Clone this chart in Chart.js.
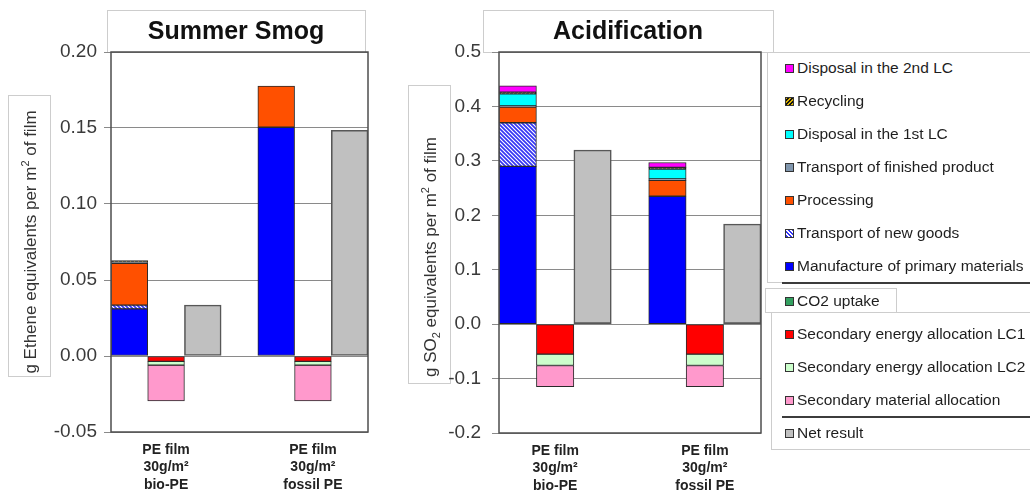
<!DOCTYPE html>
<html>
<head>
<meta charset="utf-8">
<script src="https://cdn.jsdelivr.net/npm/chart.js@4.4.1/dist/chart.umd.min.js"></script>
<style>
  html, body { margin: 0; padding: 0; background: #fff; width: 1030px; height: 495px; overflow: hidden;
    font-family: "Liberation Sans", Arial, sans-serif; }
  canvas { position: absolute; top: 0; }
  #smog { left: 0; }
  #acid { left: 395px; }
  .box { position: absolute; border: 1px solid #cdcdcd; background: #fff; box-sizing: border-box; }
  .sep { position: absolute; height: 2px; background: #3c3c3c; }
  .item { position: absolute; left: 785px; height: 20px; display: flex; align-items: center;
    font-size: 15.5px; color: #1e1e1e; white-space: nowrap; }
  .sw { width: 9px; height: 9px; border: 1px solid #333; box-sizing: border-box; margin-right: 3px; flex: none; }
</style>
</head>
<body>
<canvas id="smog" width="385" height="495"></canvas>
<canvas id="acid" width="380" height="495"></canvas>
<div id="legend"></div>
<script>
// ---- data -------------------------------------------------------------
const productLabels = [['PE film', '30g/m²', 'bio-PE'], ['PE film', '30g/m²', 'fossil PE']];

// burden contributions, stacked upward (bottom first)
const burdenSeries = [
  'Manufacture of primary materials',
  'Transport of new goods',
  'Processing',
  'Transport of finished product',
  'Disposal in the 1st LC',
  'Recycling',
  'Disposal in the 2nd LC'
];
// credits, stacked downward from zero
const creditSeries = [
  'CO2 uptake',
  'Secondary energy allocation LC1',
  'Secondary energy allocation LC2',
  'Secondary material allocation'
];
const netSeries = 'Net result';

// Summer smog, g ethene equivalents per m² of film
const smogBurdenBio    = [0.031, 0.0025, 0.0275, 0.0005, 0, 0.0013, 0];
const smogBurdenFossil = [0.1505, 0, 0.0271, 0, 0, 0, 0];
const smogCreditBio    = [0, -0.0035, -0.0025, -0.0235];
const smogCreditFossil = [0, -0.0035, -0.0025, -0.0235];
const smogNet          = [0.0335, 0.1485];
const smogTicks        = [-0.05, 0, 0.05, 0.10, 0.15, 0.20];

// Acidification, g SO2 equivalents per m² of film
const acidBurdenBio    = [0.29, 0.08, 0.029, 0.002, 0.022, 0.003, 0.012];
const acidBurdenFossil = [0.235, 0, 0.029, 0.003, 0.018, 0.003, 0.009];
const acidCreditBio    = [0, -0.055, -0.021, -0.039];
const acidCreditFossil = [0, -0.055, -0.021, -0.039];
const acidNet          = [0.32, 0.184];
const acidTicks        = [-0.2, -0.1, 0, 0.1, 0.2, 0.3, 0.4, 0.5];

// ---- styles -----------------------------------------------------------
const FONT = '"Liberation Sans", Arial, sans-serif';

function hatch(bg, fg, dir, size, lw) {
  const c = document.createElement('canvas');
  c.width = size; c.height = size;
  const g = c.getContext('2d');
  g.fillStyle = bg; g.fillRect(0, 0, size, size);
  g.strokeStyle = fg; g.lineWidth = lw;
  g.beginPath();
  for (let k = -1; k <= 1; k++) {
    if (dir === 'down') { g.moveTo(k * size - 1, -1); g.lineTo(k * size + size + 1, size + 1); }
    else { g.moveTo(k * size - 1, size + 1); g.lineTo(k * size + size + 1, -1); }
  }
  g.stroke();
  return g.createPattern(c, 'repeat');
}

const fills = {
  'Manufacture of primary materials': '#0000ff',
  'Transport of new goods': hatch('#ffffff', '#3434f4', 'down', 4, 1.7),
  'Processing': '#ff5000',
  'Transport of finished product': '#8096ad',
  'Disposal in the 1st LC': '#00ffff',
  'Recycling': hatch('#111111', '#8a7000', 'up', 4, 1),
  'Disposal in the 2nd LC': '#ff00ff',
  'CO2 uptake': '#33a060',
  'Secondary energy allocation LC1': '#ff0000',
  'Secondary energy allocation LC2': '#ccffcc',
  'Secondary material allocation': '#ff99cc',
  'Net result': '#c0c0c0'
};
const swatchCss = {
  'Manufacture of primary materials': '#0000ff',
  'Transport of new goods': 'repeating-linear-gradient(45deg,#3434f4 0 1.5px,#ffffff 1.5px 3px)',
  'Processing': '#ff5000',
  'Transport of finished product': '#8096ad',
  'Disposal in the 1st LC': '#00ffff',
  'Recycling': 'repeating-linear-gradient(-45deg,#d8b000 0 1.5px,#111 1.5px 3px)',
  'Disposal in the 2nd LC': '#ff00ff',
  'CO2 uptake': '#33a060',
  'Secondary energy allocation LC1': '#ff0000',
  'Secondary energy allocation LC2': '#ccffcc',
  'Secondary material allocation': '#ff99cc',
  'Net result': '#c0c0c0'
};

// slot layout on the category axis: bio burden, bio credit, bio net, gap, fossil burden, fossil credit, fossil net
const SLOT = { burden: [0, 4], credit: [1, 5], net: [2, 6] };
const slotLabels = ['', productLabels[0], '', '', '', productLabels[1], ''];

function buildDatasets(burdenBio, burdenFossil, creditBio, creditFossil, net) {
  const ds = [];
  const mk = (name, slots, vals, isNet) => {
    const data = Array(7).fill(null);
    slots.forEach((s, k) => { data[s] = vals[k] ? vals[k] : null; });
    return {
      label: name, data,
      backgroundColor: fills[name],
      borderColor: isNet ? '#575757' : '#2a2a2a',
      borderWidth: isNet ? 1.6 : 1,
      borderSkipped: false,
      stack: 's'
    };
  };
  burdenSeries.forEach((n, i) => ds.push(mk(n, SLOT.burden, [burdenBio[i], burdenFossil[i]])));
  creditSeries.forEach((n, i) => ds.push(mk(n, SLOT.credit, [creditBio[i], creditFossil[i]])));
  ds.push(mk(netSeries, SLOT.net, net, true));
  return ds;
}

// per-canvas decoration: title box, axis caption box and caption
const decorSpecs = {
  smog: {
    title: 'Summer Smog',
    titleBox: [107, 10, 258, 42],
    axisBox: [8, 95, 42, 281],
    captionAt: [30, 242],
    caption: [['g Ethene equivalents per m', 0], ['2', -7], [' of film', 0]]
  },
  acid: {
    title: 'Acidification',
    titleBox: [88, 10, 290, 42],
    axisBox: [13, 85, 42, 298],
    captionAt: [35, 257],
    caption: [['g SO', 0], ['2', 4], [' equivalents per m', 0], ['2', -7], [' of film', 0]]
  }
};

const decor = {
  id: 'decor',
  beforeDraw(chart) {
    const o = decorSpecs[chart.canvas.id];
    const ctx = chart.ctx;
    ctx.save();
    ctx.fillStyle = '#fff';
    ctx.fillRect(0, 0, chart.width, chart.height);
    ctx.strokeStyle = '#cdcdcd';
    ctx.lineWidth = 1;
    const [tx, ty, tw, th] = o.titleBox;
    ctx.strokeRect(tx + 0.5, ty + 0.5, tw, th);
    ctx.fillStyle = '#111';
    ctx.font = 'bold 25px ' + FONT;
    ctx.textAlign = 'center';
    ctx.textBaseline = 'middle';
    ctx.fillText(o.title, tx + tw / 2, ty + th / 2 + 1);

    const [bx, by, bw, bh] = o.axisBox;
    ctx.strokeRect(bx + 0.5, by + 0.5, bw, bh);

    // caption, rotated 90° counter-clockwise, with small raised/lowered digits
    const big = '17px ' + FONT, small = '11px ' + FONT;
    let total = 0;
    for (const [text, shift] of o.caption) {
      ctx.font = shift ? small : big;
      total += ctx.measureText(text).width;
    }
    ctx.translate(o.captionAt[0], o.captionAt[1]);
    ctx.rotate(-Math.PI / 2);
    ctx.textAlign = 'left';
    ctx.textBaseline = 'alphabetic';
    ctx.fillStyle = '#333';
    let x = -total / 2;
    for (const [text, shift] of o.caption) {
      ctx.font = shift ? small : big;
      ctx.fillText(text, x, 6 + shift);
      x += ctx.measureText(text).width;
    }
    ctx.restore();
  },
  afterDatasetsDraw(chart) {
    const a = chart.chartArea, ctx = chart.ctx;
    ctx.save();
    ctx.strokeStyle = '#4e4e4e';
    ctx.lineWidth = 1.5;
    ctx.strokeRect(a.left, a.top, a.right - a.left, a.bottom - a.top);
    ctx.restore();
  }
};

function makeChart(id, cfg) {
  return new Chart(document.getElementById(id), {
    type: 'bar',
    data: { labels: slotLabels, datasets: cfg.datasets },
    plugins: [decor],
    options: {
      responsive: false,
      animation: false,
      events: [],
      layout: { padding: { left: 0, right: cfg.padRight, top: 52, bottom: 0 } },
      datasets: { bar: { categoryPercentage: 1, barPercentage: 1 } },
      plugins: {
        legend: { display: false },
        tooltip: { enabled: false },
        title: { display: false }
      },
      scales: {
        x: {
          stacked: true,
          grid: { display: false, drawTicks: false },
          border: { display: false },
          ticks: {
            autoSkip: false, maxRotation: 0, padding: 9, color: '#222',
            font: { family: FONT, size: 14, weight: 'bold', lineHeight: 1.25 }
          },
          afterFit: s => { s.height = cfg.xHeight; }
        },
        y: {
          stacked: true,
          min: cfg.ticks[0],
          max: cfg.ticks[cfg.ticks.length - 1],
          afterBuildTicks: s => { s.ticks = cfg.ticks.map(v => ({ value: v })); },
          grid: { color: '#8a8a8a', lineWidth: 1, tickLength: 7, drawTicks: true },
          border: { display: false },
          ticks: {
            color: '#3a3a3a', padding: cfg.tickPad,
            font: { family: FONT, size: 19 },
            callback: v => Number(v).toFixed(cfg.decimals)
          },
          afterFit: s => { s.width = cfg.yWidth; }
        }
      }
    }
  });
}

makeChart('smog', {
  datasets: buildDatasets(smogBurdenBio, smogBurdenFossil, smogCreditBio, smogCreditFossil, smogNet),
  ticks: smogTicks, decimals: 2, yWidth: 111, padRight: 17, xHeight: 63, tickPad: 7
});

makeChart('acid', {
  datasets: buildDatasets(acidBurdenBio, acidBurdenFossil, acidCreditBio, acidCreditFossil, acidNet),
  ticks: acidTicks, decimals: 1, yWidth: 104, padRight: 14, xHeight: 62, tickPad: 11
});

// ---- legend -------------------------------------------------------------
const legend = document.getElementById('legend');
function addBox(x, y, w, h) {
  const d = document.createElement('div');
  d.className = 'box';
  Object.assign(d.style, { left: x + 'px', top: y + 'px', width: w + 'px', height: h + 'px' });
  legend.appendChild(d);
}
function addSep(x, y, w) {
  const d = document.createElement('div');
  d.className = 'sep';
  Object.assign(d.style, { left: x + 'px', top: y + 'px', width: w + 'px' });
  legend.appendChild(d);
}
function addItem(name, cy) {
  const d = document.createElement('div');
  d.className = 'item';
  d.style.top = (cy - 10) + 'px';
  const sw = document.createElement('span');
  sw.className = 'sw';
  sw.style.background = swatchCss[name];
  d.appendChild(sw);
  d.appendChild(document.createTextNode(name));
  legend.appendChild(d);
}
addBox(767, 52, 270, 231);
addBox(771, 312, 270, 138);
addBox(765, 288, 132, 25);
addSep(782, 282, 250);
addSep(782, 416, 250);
burdenSeries.slice().reverse().forEach((n, i) => addItem(n, 68 + 33 * i));
addItem(creditSeries[0], 301);
creditSeries.slice(1).forEach((n, i) => addItem(n, 334 + 33 * i));
addItem(netSeries, 433);
</script>
</body>
</html>
